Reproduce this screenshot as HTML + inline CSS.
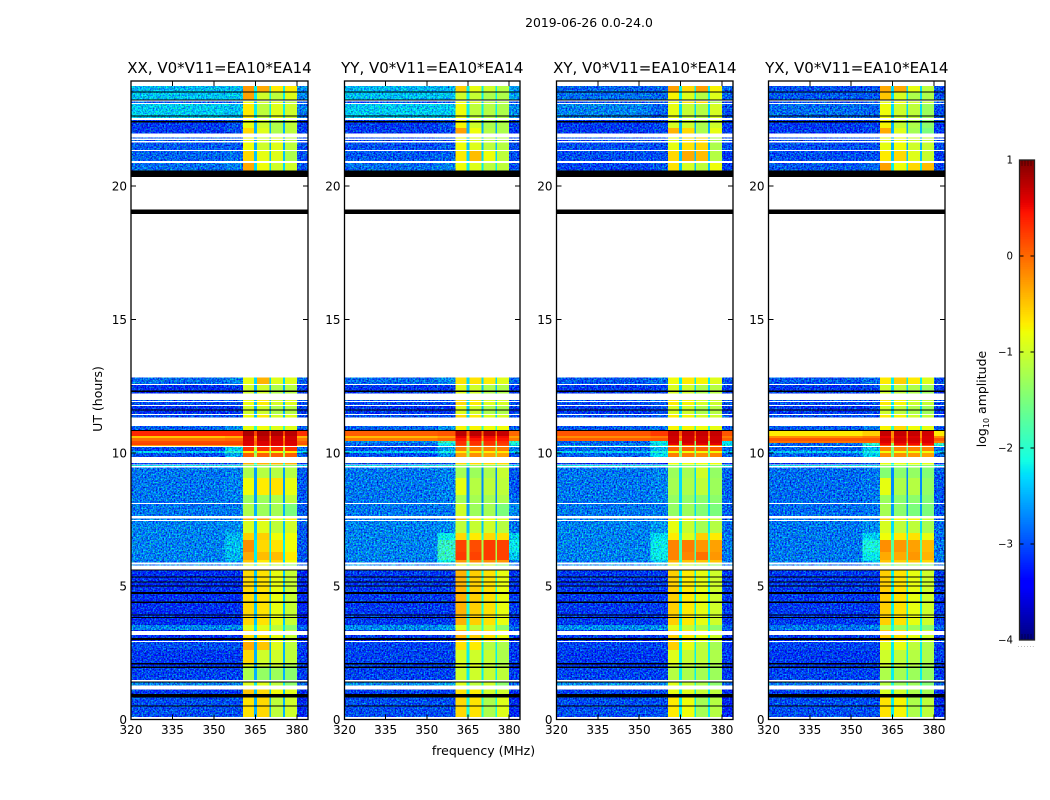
<!DOCTYPE html>
<html lang="en">
<head>
<meta charset="utf-8">
<title>2019-06-26 0.0-24.0</title>
<style>
html,body{margin:0;padding:0;background:#fff;}
svg{display:block;font-family:"DejaVu Sans","Liberation Sans",sans-serif;fill:#000;}
</style>
</head>
<body>
<svg id="figure" xmlns="http://www.w3.org/2000/svg" width="1050" height="800" viewBox="0 0 1050 800">
  <defs>
    <filter id="speckle" filterUnits="userSpaceOnUse" x="120" y="70" width="840" height="660" color-interpolation-filters="sRGB">
      <feTurbulence type="fractalNoise" baseFrequency="0.62" numOctaves="2" seed="7" result="t"/>
      <feColorMatrix in="t" type="matrix" values="0 0 0 0 0.5  0 1.2 0 0 -0.1  0 0 1.2 0 -0.1  0 0 0 0 1" result="n"/>
      <feComposite in="n" in2="SourceAlpha" operator="in" result="clip"/>
      <feComposite in="SourceGraphic" in2="clip" operator="arithmetic" k1="0" k2="1" k3="1.3" k4="-0.65"/>
    </filter>
  </defs>
  <rect x="0" y="0" width="1050" height="800" fill="#fff"/>
  <text x="589" y="27" font-size="12.4" text-anchor="middle">2019-06-26 0.0-24.0</text>
  <text x="483.5" y="755" font-size="12.5" text-anchor="middle">frequency (MHz)</text>
  <text transform="translate(102,399) rotate(-90)" font-size="12.5" text-anchor="middle">UT (hours)</text>
  <text transform="translate(986,399) rotate(-90)" font-size="12.5" text-anchor="middle">log<tspan font-size="8" dy="3">10</tspan><tspan dy="-3"> amplitude</tspan></text>
  <g id="panels"></g>
  <g id="colorbar"></g>
</svg>
<script>
// Panels
const panelTitles = ['XX, V0*V11=EA10*EA14','YY, V0*V11=EA10*EA14','XY, V0*V11=EA10*EA14','YX, V0*V11=EA10*EA14'];
const panelNames = ['xx','yy','xy','yx'];
const hourTicks = [0,5,10,15,20];
const freqTicks = [320,335,350,365,380];
const colorTicks = [1,0,-1,-2,-3,-4];
const colorTickLabels = ['1','0','\u22121','\u22122','\u22123','\u22124'];

// Frequency columns (MHz) and which profile value each column reads
const freqEdges = [320,354,360.5,364.5,365.5,370,370.6,375,375.6,380,384];
const columnValue = [0,1,2,6,3,6,4,6,5,7];

// Time bands, top of each band in hours (descending), ending at 0.1 h
const bandTop = [
 23.94,23.75,23.55,23.51,23.25,23.23,23.17,23.12,23.07,22.65,
 22.62,22.55,22.48,22.45,22.38,22.18,21.98,21.83,21.78,21.73,
 21.69,21.63,21.35,21.32,20.94,20.86,20.58,20.35,19.12,18.95,
 12.83,12.58,12.54,12.34,12.28,12.23,11.98,11.94,11.90,11.79,
 11.75,11.62,11.58,11.46,11.42,11.32,11.00,10.85,10.82,10.63,
 10.55,10.44,10.37,10.29,10.25,10.21,10.06,9.99,9.85,9.62,
 9.57,9.54,9.50,9.44,9.06,8.42,8.11,8.08,7.63,7.54,
 7.48,7.45,6.99,6.73,6.28,5.98,5.89,5.82,5.78,5.63,
 5.60,5.37,5.34,5.17,5.14,5.02,4.99,4.78,4.71,4.43,
 4.36,3.93,3.90,3.84,3.81,3.54,3.36,3.31,3.17,3.05,
 2.99,2.94,2.90,2.61,2.11,2.07,1.98,1.93,1.48,1.43,
 1.38,1.28,1.13,0.96,0.83,0.53,0.51,0.10];
const bandKind = [
 'W','T1','K','T2','K','W','B3','W','T3','K',
 'T3','W','B1','K','B1','B2','W','B3','W','B3',
 'W','B3','W','B4','W','B5','K','W','K','W',
 'C1','W','C2','K','C2','W','C3','W','C3','W',
 'C2','K','C2','W','C3','W','D0','K','R1','R2',
 'R3','R5','R6','R4','W','D1','D2','D3','W','E1',
 'W','E2','W','F1','F2','F3','W','G','W','H',
 'W','I1','I2','I3','I4','I5','W','J2','W','K',
 'J','K','J','K','J','K','J','K','J','K',
 'J','K','J','K','J','J2','J','W','J','K',
 'J','W','L1','L2','K','L3','K','L4','W','K',
 'J2','W','M1','K','M2','K','M2'];

// log10 amplitude per profile: left bg, near bg, window 1-4, window gap, right bg
const profileNames = ['T1','T2','T3','B1','B2','B3','B4','B5','C1','C2','C3','D0','R1','R2','R3','R5','R6','R4','D1','D2','D3','E1','E2','F1','F2','F3','G','H','I1','I2','I3','I4','I5','J','J2','L1','L2','L3','L4','M1','M2'];
const xxValues = [
 [-2.5,-2.45,-0.25,-0.35,-0.7,-0.7,-2.2,-2.7],
 [-2.45,-2.45,-0.3,-1.0,-1.1,-0.9,-2.2,-2.7],
 [-2.4,-2.45,-0.7,-1.1,-0.9,-1.0,-2.2,-2.8],
 [-3.1,-3.0,-0.85,-1.0,-1.2,-1.1,-2.5,-3.1],
 [-3.1,-3.0,-0.6,-0.9,-1.2,-1.1,-2.5,-3.1],
 [-2.95,-2.95,-0.8,-1.0,-0.9,-1.1,-2.5,-3.0],
 [-2.9,-2.85,-0.6,-0.85,-0.9,-1.2,-2.4,-3.0],
 [-2.85,-2.75,-0.35,-0.8,-1.0,-1.0,-2.3,-3.0],
 [-2.85,-2.75,-0.85,-0.4,-0.9,-0.9,-2.3,-2.9],
 [-3.15,-3.1,-1.0,-1.0,-1.2,-1.15,-2.5,-3.1],
 [-3.0,-3.0,-0.8,-0.7,-0.95,-0.9,-2.4,-3.0],
 [-2.9,-2.7,-0.85,-0.8,-0.9,-0.9,-2.0,-2.9],
 [0.35,0.35,0.8,0.8,0.8,0.75,0.2,0.3],
 [-0.5,-0.4,0.65,0.7,0.65,0.65,-0.3,-0.4],
 [-0.05,0.0,0.65,0.7,0.65,0.65,-0.1,-0.1],
 [0.15,0.15,0.6,0.6,0.6,0.6,0.0,0.05],
 [0.2,0.2,0.6,0.6,0.6,0.6,0.0,0.1],
 [-0.3,-0.2,0.5,0.5,0.5,0.5,-0.3,-0.5],
 [-3.0,-2.4,0.3,0.3,0.3,0.3,-1.0,-2.8],
 [-2.4,-2.0,-0.7,-0.7,-0.8,-0.7,-1.5,-2.3],
 [-3.0,-2.6,0.05,0.05,0.05,0.05,-1.2,-2.9],
 [-3.0,-3.0,-0.4,-0.4,-0.4,-0.4,-2.0,-3.0],
 [-2.2,-2.1,-1.4,-1.4,-1.4,-1.4,-2.0,-2.3],
 [-2.8,-2.75,-1.2,-1.15,-1.15,-1.15,-2.6,-2.95],
 [-2.8,-2.75,-0.8,-0.7,-0.65,-0.85,-2.6,-2.95],
 [-2.8,-2.75,-1.3,-1.3,-1.2,-1.1,-2.6,-2.95],
 [-2.8,-2.8,-1.2,-1.3,-1.25,-1.5,-2.5,-2.95],
 [-2.8,-2.8,-0.4,-0.3,-0.8,-0.7,-2.0,-2.95],
 [-2.75,-2.7,-0.95,-0.9,-1.1,-1.0,-2.4,-2.95],
 [-2.75,-2.5,-0.55,-0.55,-0.8,-0.8,-2.3,-2.95],
 [-2.75,-2.45,-0.2,-0.6,-0.65,-0.8,-2.2,-2.95],
 [-2.75,-2.5,-0.35,-0.45,-0.45,-0.7,-2.2,-2.95],
 [-2.8,-2.6,-0.5,-0.7,-0.6,-0.8,-2.3,-2.95],
 [-3.15,-3.15,-0.6,-0.65,-0.85,-1.05,-2.4,-3.2],
 [-2.75,-2.7,-0.9,-0.9,-1.1,-1.4,-2.2,-2.9],
 [-3.0,-3.0,-0.35,-0.5,-0.9,-1.1,-2.5,-3.1],
 [-3.1,-3.1,-0.6,-1.0,-1.0,-1.1,-2.5,-3.1],
 [-3.1,-3.1,-0.85,-1.0,-1.0,-1.2,-2.5,-3.1],
 [-3.05,-3.05,-1.2,-1.35,-1.3,-1.4,-2.5,-3.1],
 [-3.1,-3.1,-0.5,-0.6,-0.8,-0.9,-2.4,-3.2],
 [-3.0,-3.0,-0.65,-0.6,-1.1,-1.0,-2.5,-3.2]];
const yyValues = [
 [-2.5,-2.5,-0.55,-0.85,-1.0,-1.15,-2.2,-2.6],
 [-2.45,-2.45,-1.0,-1.05,-1.2,-1.2,-2.2,-2.6],
 [-2.4,-2.4,-0.8,-1.1,-1.15,-1.2,-2.2,-2.7],
 [-3.1,-3.0,-0.75,-1.0,-1.2,-1.2,-2.5,-3.1],
 [-3.1,-3.0,-0.3,-0.8,-1.15,-1.2,-2.5,-3.1],
 [-3.0,-2.95,-0.8,-0.9,-1.1,-1.15,-2.4,-3.0],
 [-2.95,-2.9,-0.7,-0.45,-0.8,-1.1,-2.3,-3.0],
 [-2.85,-2.75,-0.8,-0.9,-1.1,-1.1,-2.2,-3.0],
 [-2.85,-2.7,-0.65,-0.65,-0.7,-0.9,-2.3,-2.9],
 [-3.1,-3.1,-0.9,-1.0,-1.2,-1.2,-2.4,-3.1],
 [-3.0,-3.0,-0.6,-0.7,-0.9,-0.95,-2.3,-3.0],
 [-2.9,-2.7,-0.75,-0.75,-0.8,-0.8,-2.0,-2.9],
 [0.05,0.1,0.75,0.75,0.75,0.7,0.0,0.0],
 [-0.45,-0.3,0.55,0.55,0.5,0.5,-0.3,-0.3],
 [-0.1,0.0,0.45,0.45,0.45,0.45,-0.2,-0.1],
 [-2.7,-1.9,0.3,0.3,0.3,0.3,-1.3,-2.0],
 [-2.9,-2.2,0.3,0.3,0.3,0.25,-1.5,-2.1],
 [-2.9,-2.3,0.1,0.1,0.1,0.1,-1.6,-2.4],
 [-3.0,-2.6,-0.1,-0.1,-0.1,-0.1,-1.2,-2.8],
 [-2.4,-2.1,-0.7,-0.7,-0.7,-0.7,-1.5,-2.4],
 [-3.0,-2.7,-0.3,-0.2,-0.3,-0.3,-1.3,-3.0],
 [-3.0,-3.0,-0.6,-0.6,-0.6,-0.6,-2.0,-3.0],
 [-2.2,-2.1,-1.4,-1.4,-1.4,-1.4,-2.0,-2.3],
 [-2.8,-2.75,-1.25,-1.3,-1.2,-1.05,-2.7,-2.95],
 [-2.8,-2.75,-0.85,-1.15,-1.1,-1.1,-2.7,-2.95],
 [-2.8,-2.75,-1.25,-1.25,-1.25,-1.2,-2.7,-2.85],
 [-2.8,-2.8,-1.0,-1.3,-1.25,-1.5,-2.6,-2.7],
 [-2.8,-2.8,-0.5,-0.7,-0.8,-0.9,-2.0,-2.95],
 [-2.75,-2.7,-1.1,-1.05,-1.0,-1.15,-2.4,-2.8],
 [-2.75,-2.2,-0.6,-0.7,-0.6,-0.65,-2.0,-2.4],
 [-2.75,-1.95,0.2,0.15,0.25,0.2,-1.2,-2.2],
 [-2.75,-1.95,0.25,0.2,0.25,0.2,-1.2,-2.4],
 [-2.8,-2.2,-0.25,-0.2,-0.2,-0.25,-1.6,-2.8],
 [-3.1,-3.1,-0.4,-0.55,-0.65,-0.85,-2.1,-3.1],
 [-2.7,-2.6,-0.9,-1.1,-1.0,-1.4,-2.0,-2.9],
 [-3.05,-3.05,-0.65,-0.7,-1.15,-1.2,-2.2,-3.1],
 [-3.05,-3.05,-0.95,-1.0,-1.05,-1.2,-2.2,-3.1],
 [-3.05,-3.05,-0.9,-0.9,-1.05,-1.15,-2.2,-3.1],
 [-3.05,-3.05,-1.0,-1.0,-1.05,-1.1,-2.2,-3.1],
 [-3.05,-3.05,-0.65,-0.7,-1.0,-1.0,-2.2,-3.2],
 [-3.0,-3.0,-0.6,-0.65,-1.2,-0.9,-2.1,-3.2]];
const xyValues = [
 [-2.9,-2.9,-0.3,-0.6,-0.3,-0.75,-2.2,-2.9],
 [-2.85,-2.9,-0.75,-0.9,-1.15,-0.9,-2.2,-2.9],
 [-2.75,-2.9,-0.85,-1.05,-1.15,-0.95,-2.3,-3.0],
 [-3.1,-3.05,-0.95,-1.0,-1.2,-1.0,-2.5,-3.1],
 [-3.1,-3.05,-0.4,-0.6,-1.2,-0.85,-2.5,-3.1],
 [-3.0,-3.0,-0.85,-0.65,-0.6,-1.2,-2.5,-3.0],
 [-3.0,-3.0,-0.6,-0.35,-0.45,-1.15,-2.4,-3.1],
 [-3.05,-2.95,-0.65,-0.95,-1.1,-0.8,-2.4,-3.1],
 [-2.95,-2.85,-0.8,-0.7,-0.75,-0.9,-2.2,-3.0],
 [-3.1,-3.05,-0.95,-1.0,-1.2,-1.15,-2.3,-3.1],
 [-3.0,-2.95,-0.7,-0.75,-0.95,-1.0,-2.2,-3.0],
 [-2.95,-2.8,-0.75,-0.75,-0.8,-0.85,-2.0,-3.0],
 [0.1,0.25,0.7,0.7,0.7,0.7,0.1,0.1],
 [-0.2,-0.1,0.65,0.65,0.65,0.65,-0.2,-0.1],
 [0.05,0.1,0.65,0.65,0.65,0.65,0.0,0.05],
 [-2.9,-2.2,0.65,0.65,0.65,0.65,-1.4,-2.3],
 [-2.9,-2.3,0.55,0.55,0.55,0.55,-1.4,-2.3],
 [-2.6,-2.1,-0.2,-0.2,-0.2,-0.2,-1.5,-2.2],
 [-2.9,-2.5,0.05,0.05,0.05,0.05,-1.4,-2.9],
 [-2.4,-2.1,-0.8,-0.8,-0.8,-0.8,-1.7,-2.4],
 [-2.9,-2.3,-0.1,-0.1,-0.2,-0.15,-1.4,-2.9],
 [-3.1,-3.1,-0.8,-0.8,-0.8,-0.8,-2.1,-3.1],
 [-2.15,-2.1,-1.5,-1.5,-1.5,-1.5,-2.0,-2.2],
 [-2.8,-2.75,-1.3,-1.25,-1.0,-1.35,-2.3,-2.9],
 [-2.8,-2.75,-1.25,-1.2,-1.1,-1.3,-2.3,-2.9],
 [-2.8,-2.75,-1.35,-1.35,-1.4,-1.4,-2.3,-2.9],
 [-2.8,-2.8,-1.35,-1.3,-1.45,-1.5,-2.3,-2.9],
 [-2.8,-2.8,-0.6,-0.7,-0.7,-1.0,-2.1,-2.95],
 [-2.75,-2.65,-0.85,-1.05,-1.25,-1.15,-2.2,-2.85],
 [-2.75,-2.3,-0.7,-0.9,-0.55,-0.7,-2.0,-2.8],
 [-2.75,-2.2,-0.15,-0.1,-0.25,-0.3,-1.8,-2.8],
 [-2.75,-2.2,-0.15,-0.15,-0.05,-0.25,-1.8,-2.8],
 [-2.8,-2.4,-0.4,-0.5,-0.5,-0.5,-2.0,-2.85],
 [-3.1,-3.1,-0.55,-0.7,-0.85,-1.0,-2.2,-3.1],
 [-2.7,-2.7,-0.9,-1.05,-1.2,-1.4,-2.0,-2.9],
 [-3.05,-3.05,-0.55,-0.85,-1.1,-1.25,-2.2,-3.1],
 [-3.1,-3.1,-0.9,-1.05,-1.1,-1.2,-2.2,-3.1],
 [-3.1,-3.1,-1.0,-1.05,-1.1,-1.2,-2.2,-3.1],
 [-3.05,-3.05,-1.15,-1.2,-1.25,-1.3,-2.2,-3.1],
 [-3.05,-3.05,-0.85,-0.9,-1.05,-1.1,-2.2,-3.2],
 [-3.0,-3.0,-0.7,-0.8,-1.25,-1.15,-2.2,-3.2]];
const yxValues = [
 [-3.0,-3.0,-0.35,-0.35,-0.85,-1.1,-2.3,-3.0],
 [-2.95,-2.95,-0.5,-0.95,-1.2,-1.2,-2.3,-3.0],
 [-2.85,-2.9,-0.8,-1.0,-1.1,-1.3,-2.3,-3.0],
 [-3.1,-3.05,-0.75,-1.05,-1.2,-1.4,-2.5,-3.1],
 [-3.1,-3.05,-0.35,-0.9,-1.25,-1.5,-2.5,-3.1],
 [-3.0,-3.0,-0.85,-0.8,-1.0,-1.05,-2.5,-3.0],
 [-3.0,-3.0,-0.7,-0.6,-0.9,-1.05,-2.4,-3.1],
 [-2.95,-2.85,-0.3,-0.8,-0.6,-0.45,-2.2,-3.05],
 [-2.95,-2.85,-0.7,-0.55,-0.7,-0.9,-2.2,-3.0],
 [-3.1,-3.05,-1.0,-1.1,-1.2,-1.3,-2.3,-3.1],
 [-3.0,-3.0,-0.7,-0.75,-1.0,-1.05,-2.2,-3.0],
 [-2.95,-2.8,-0.75,-0.6,-0.8,-0.85,-2.0,-3.0],
 [-0.7,-0.55,0.7,0.7,0.7,0.65,-0.2,-0.7],
 [-0.2,-0.1,0.55,0.6,0.6,0.6,-0.2,-0.2],
 [0.1,0.1,0.65,0.65,0.65,0.6,0.0,0.1],
 [-0.05,0.0,0.6,0.6,0.6,0.6,-0.2,-0.1],
 [-2.9,-2.0,0.5,0.5,0.5,0.5,-1.3,-1.9],
 [-2.9,-2.2,0.1,0.1,0.1,0.1,-1.5,-2.2],
 [-2.9,-2.5,-0.15,-0.15,-0.15,-0.15,-1.5,-2.9],
 [-2.4,-2.1,-0.8,-0.8,-0.8,-0.8,-1.6,-2.4],
 [-2.9,-2.35,-0.2,-0.2,-0.25,-0.3,-1.5,-2.9],
 [-3.1,-3.1,-0.85,-0.85,-0.85,-0.85,-2.1,-3.1],
 [-2.2,-2.15,-1.45,-1.45,-1.45,-1.45,-2.1,-2.25],
 [-2.85,-2.8,-1.45,-1.4,-1.35,-1.45,-2.7,-2.95],
 [-2.85,-2.8,-0.85,-1.2,-1.15,-1.35,-2.7,-2.95],
 [-2.85,-2.8,-1.3,-1.4,-1.4,-1.45,-2.6,-2.95],
 [-2.85,-2.8,-1.25,-1.4,-1.5,-1.5,-2.6,-2.95],
 [-2.8,-2.8,-0.55,-0.75,-0.75,-1.0,-2.1,-2.95],
 [-2.8,-2.7,-0.95,-1.1,-1.1,-1.25,-2.3,-2.85],
 [-2.8,-2.35,-0.8,-0.7,-0.65,-0.85,-2.1,-2.85],
 [-2.8,-2.1,-0.2,-0.25,-0.3,-0.45,-1.7,-2.8],
 [-2.8,-2.2,-0.35,-0.35,-0.25,-0.4,-1.7,-2.8],
 [-2.8,-2.45,-0.5,-0.55,-0.5,-0.6,-2.0,-2.85],
 [-3.1,-3.1,-0.55,-0.65,-0.85,-1.0,-2.2,-3.1],
 [-2.8,-2.75,-1.15,-1.3,-1.3,-1.45,-2.1,-2.9],
 [-3.05,-3.05,-0.9,-0.85,-1.1,-1.2,-2.2,-3.1],
 [-3.1,-3.1,-1.0,-1.1,-1.15,-1.2,-2.2,-3.1],
 [-3.1,-3.1,-1.0,-1.05,-1.15,-1.25,-2.2,-3.1],
 [-3.05,-3.05,-1.2,-1.25,-1.3,-1.35,-2.2,-3.1],
 [-3.05,-3.05,-0.95,-1.0,-1.2,-1.25,-2.2,-3.2],
 [-3.0,-3.0,-0.65,-0.75,-1.2,-1.1,-2.2,-3.2]];
const panelValues = [xxValues,yyValues,xyValues,yxValues];

const SVGNS = 'http://www.w3.org/2000/svg';
const FRAME = [[131,308],[344.5,520],[556.5,733],[768.5,945]];
const FREQ_MIN = 320, FREQ_MAX = 384;
const TOP = 81, BOTTOM = 719.5, PX_PER_HOUR = 26.67;
function yScale(h){ return BOTTOM - h*PX_PER_HOUR; }
function xScale(f,p){ return FRAME[p][0] + (f-FREQ_MIN)/(FREQ_MAX-FREQ_MIN)*(FRAME[p][1]-FRAME[p][0]); }
const COLOR_MIN = -4, COLOR_MAX = 1;
const JET_R = [[0,0],[.35,0],[.66,1],[.89,1],[1,.5]];
const JET_G = [[0,0],[.125,0],[.375,1],[.64,1],[.91,0],[1,0]];
const JET_B = [[0,.5],[.11,1],[.34,1],[.65,0],[1,0]];
function seg(s,t){
  for(let i=1;i<s.length;i++){
    if(t<=s[i][0]){ return s[i-1][1]+(s[i][1]-s[i-1][1])*(t-s[i-1][0])/(s[i][0]-s[i-1][0]); }
  }
  return s[s.length-1][1];
}
function jet(v){
  const t = Math.max(0,Math.min(1,(v-COLOR_MIN)/(COLOR_MAX-COLOR_MIN)));
  return 'rgb('+Math.round(255*seg(JET_R,t))+','+Math.round(255*seg(JET_G,t))+','+Math.round(255*seg(JET_B,t))+')';
}
function mk(tag,attrs,parent){
  const el = document.createElementNS(SVGNS,tag);
  for(const k in attrs){ el.setAttribute(k,attrs[k]); }
  if(parent){ parent.appendChild(el); }
  return el;
}
const panelsRoot = document.getElementById('panels');
panelTitles.forEach(function(title,p){
  const g = mk('g',{},panelsRoot);
  
  
  const bg = mk('g',{filter:'url(#speckle)','shape-rendering':'crispEdges'},g);
  
  
  const win = mk('g',{'shape-rendering':'crispEdges'},g);
  
  
  const flags = mk('g',{'shape-rendering':'crispEdges'},g);
  
  
  bandKind.forEach(function(kind,b){
    if(kind==='W'){ return; }
    const y0 = yScale(bandTop[b]);
    const y1 = b+1<bandTop.length ? yScale(bandTop[b+1]) : BOTTOM;
    const h = Math.max(1,y1-y0);
    if(kind==='K'){
      const k = mk('rect',{x:FRAME[p][0],y:y0,width:FRAME[p][1]-FRAME[p][0],height:h,fill:'#000'},flags);
      
      
      return;
    }
    const vals = panelValues[p][profileNames.indexOf(kind)];
    for(let c=0;c<columnValue.length;c++){
      const x0 = xScale(freqEdges[c],p), x1 = xScale(freqEdges[c+1],p);
      const v = vals[columnValue[c]];
      const isBg = (c<2 || c===9) && v < -1.5;
      const r = mk('rect',{x:x0,y:y0,width:Math.max(1,x1-x0),height:h,fill:jet(v)},isBg?bg:win);
      
      
    }
  });
  const x0 = FRAME[p][0], x1 = FRAME[p][1];
  const ticks = mk('g',{stroke:'#000','stroke-width':1,'shape-rendering':'crispEdges'},g);
  
  
  hourTicks.forEach(function(h){
    const y = yScale(h);
    mk('line',{x1:x0,x2:x0+5,y1:y,y2:y},ticks);
    mk('line',{x1:x1-5,x2:x1,y1:y,y2:y},ticks);
    const t = mk('text',{x:x0-4,y:y+4.5,'font-size':12,'text-anchor':'end'},g);
    
    
    t.textContent = String(h);
  });
  freqTicks.forEach(function(f){
    const x = xScale(f,p);
    mk('line',{x1:x,x2:x,y1:TOP,y2:TOP+5},ticks);
    mk('line',{x1:x,x2:x,y1:BOTTOM-5,y2:BOTTOM},ticks);
    const t = mk('text',{x:x,y:734,'font-size':12,'text-anchor':'middle'},g);
    
    
    t.textContent = String(f);
  });
  const fr = mk('rect',{x:x0,y:TOP,width:x1-x0,height:BOTTOM-TOP,fill:'none',stroke:'#000','stroke-width':1.3},g);
  
  
  const tt = mk('text',{x:(x0+x1)/2,y:73,'font-size':15,'text-anchor':'middle'},g);
  
  
  tt.textContent = title;
});

// Colorbar
const CB_LEFT = 1019.5, CB_RIGHT = 1034.5, CB_TOP = 160, CB_BOTTOM = 640;
function cbY(v){ return CB_TOP + (COLOR_MAX-v)/(COLOR_MAX-COLOR_MIN)*(CB_BOTTOM-CB_TOP); }
const cb = document.getElementById('colorbar');
const cbCells = mk('g',{'shape-rendering':'crispEdges'},cb);


for(let i=0;i<256;i++){
  const v0 = COLOR_MAX-(COLOR_MAX-COLOR_MIN)*i/256;
  const v1 = COLOR_MAX-(COLOR_MAX-COLOR_MIN)*(i+1)/256;
  mk('rect',{x:CB_LEFT,y:cbY(v0),width:CB_RIGHT-CB_LEFT,height:Math.max(1,cbY(v1)-cbY(v0)+0.5),fill:jet((v0+v1)/2)},cbCells);
}
colorTicks.forEach(function(v,i){
  const y = cbY(v);
  if(i>0 && i<colorTicks.length-1){
    mk('line',{x1:CB_LEFT,x2:CB_LEFT+4,y1:y,y2:y,stroke:'#000','stroke-width':1},cb);
    mk('line',{x1:CB_RIGHT-4,x2:CB_RIGHT,y1:y,y2:y,stroke:'#000','stroke-width':1},cb);
  }
  const t = mk('text',{x:1013,y:y+3.5,'font-size':10.2,'text-anchor':'end'},cb);
  
  
  t.textContent = colorTickLabels[i];
});
[1022,1025,1028,1031].forEach(function(x){
  mk('line',{x1:x,x2:x,y1:CB_TOP,y2:CB_TOP+6,stroke:'#000','stroke-width':0.7,'stroke-opacity':0.6},cb);
  mk('line',{x1:x,x2:x,y1:CB_BOTTOM-6,y2:CB_BOTTOM,stroke:'#000','stroke-width':0.7,'stroke-opacity':0.6},cb);
});
const cbFrame = mk('rect',{x:CB_LEFT,y:CB_TOP,width:CB_RIGHT-CB_LEFT,height:CB_BOTTOM-CB_TOP,fill:'none',stroke:'#222','stroke-width':1.3},cb);


const dots = mk('text',{x:1026.5,y:647,'font-size':6,'text-anchor':'middle',fill:'#777','letter-spacing':'1'},cb);


dots.textContent = '......';
</script>
</body>
</html>
